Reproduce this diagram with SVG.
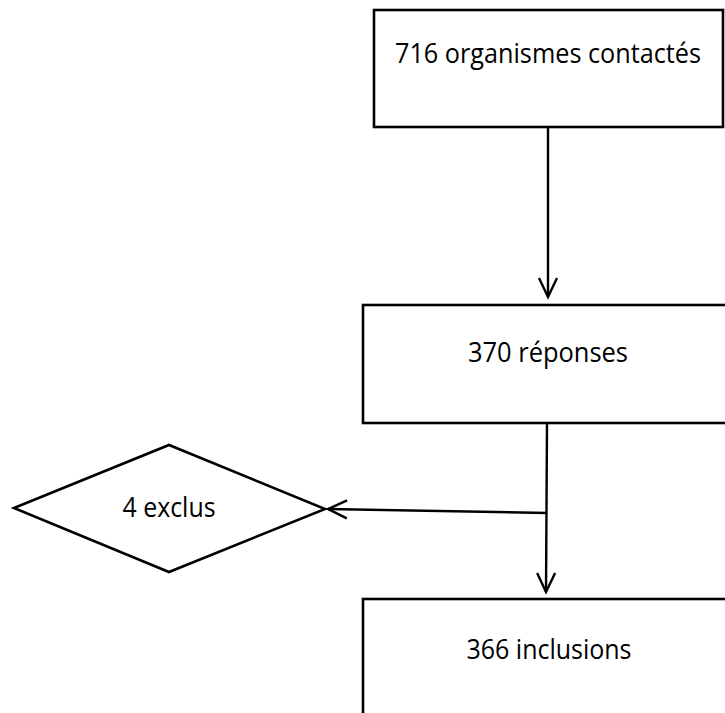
<svg xmlns="http://www.w3.org/2000/svg" width="725" height="713" viewBox="0 0 725 713">
<style>
.box{fill:#fff;stroke:#000;stroke-width:2.6}
.lbl{font-family:"Open Sans","Noto Sans","Liberation Sans",sans-serif;font-size:27px;fill:#000;text-anchor:middle}
.con{fill:none;stroke:#000;stroke-width:2.4}
.head{fill:none;stroke:#000;stroke-width:2.4}
</style>
<defs>
<marker id="arr" markerWidth="24" markerHeight="24" refX="20" refY="10" orient="auto" markerUnits="userSpaceOnUse" viewBox="0 0 24 20">
<path class="head" d="M1 1 L20 10 L1 19"/>
</marker>
</defs>
<g id="n1">
<rect class="box" x="374" y="10" width="349" height="117"/>
<text class="lbl" x="548" y="63" textLength="306" lengthAdjust="spacingAndGlyphs">716 organismes contactés</text>
</g>
<g id="n2">
<rect class="box" x="363" y="305" width="380" height="118"/>
<text class="lbl" x="548" y="362" textLength="160" lengthAdjust="spacingAndGlyphs">370 réponses</text>
</g>
<g id="n3">
<rect class="box" x="363" y="599" width="380" height="130"/>
<text class="lbl" x="549" y="659" textLength="165" lengthAdjust="spacingAndGlyphs">366 inclusions</text>
</g>
<g id="n4">
<polygon class="box" points="14,508 169,445 325,509 169,572"/>
<text class="lbl" x="169" y="517" textLength="93" lengthAdjust="spacingAndGlyphs">4 exclus</text>
</g>
<g id="connectors">
<line class="con" x1="548" y1="127" x2="548" y2="297" marker-end="url(#arr)"/>
<line class="con" x1="547" y1="423" x2="546" y2="592" marker-end="url(#arr)"/>
<line class="con" x1="547" y1="513" x2="328" y2="509" marker-end="url(#arr)"/>
</g>
</svg>
